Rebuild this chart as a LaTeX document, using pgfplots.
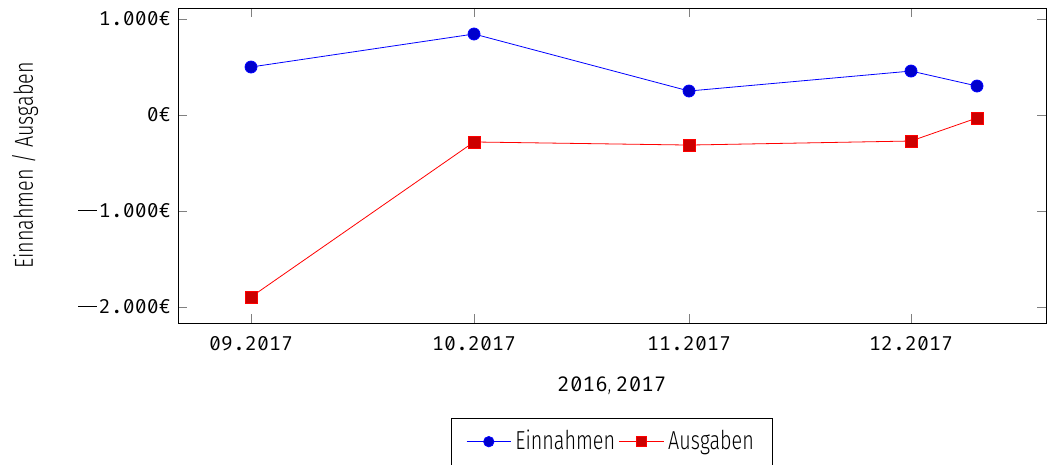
\documentclass[border=0pt]{standalone}
\usepackage{fontspec}
\setmainfont{Fira Sans}[UprightFont=* Light, FakeStretch=0.76]
\newfontfamily\numfont{Fira Mono}[RawFeature=+zero]
\newcommand{\mn}{\rule[3.3pt]{9.5pt}{0.55pt}\hspace{0.8pt}}
\usepackage{pgfplots}
\pgfplotsset{compat=1.18}
\begin{document}
\begin{tikzpicture}
\begin{axis}[
  scale only axis,
  width=434pt, height=157.5pt,
  xmin=178, xmax=1046,
  ymin=-2167, ymax=1115,
  xtick={251,474,689,911},
  xticklabels={09.2017,10.2017,11.2017,12.2017},
  ytick={-2000,-1000,0,1000},
  yticklabels={\mn2.000€,\mn1.000€,0€,1.000€},
  /pgf/number format/assume math mode=true,
  tick style={gray},
  every axis plot/.append style={mark size=3pt},
  xlabel={2016{\rmfamily,}\hspace{2.5pt}2017},
  ylabel={Einnahmen / Ausgaben},
  legend columns=-1,
  legend style={at={(0.5,-0.3016)}, anchor=north, font=\fontsize{13}{15}\selectfont, inner xsep=7.5pt, inner ysep=4pt},
  legend image code/.code={\draw[mark repeat=2,mark phase=2,mark size=2.6pt] plot coordinates {(0cm,0cm)(0.39cm,0cm)(0.78cm,0cm)};},
  tick label style={font=\fontsize{10}{12}\selectfont\numfont},
  xticklabel style={yshift=-3.25pt},
  xlabel style={font=\fontsize{10.5}{12}\selectfont\numfont, at={(rel axis cs:0.5,-0.219)}, anchor=base},
  ylabel style={font=\fontsize{13}{15}\selectfont, at={(rel axis cs:-0.1763,0.5)}, anchor=center},
]
\addplot coordinates {(251,500) (474,844) (689,250) (911,458) (977,302)};
\addlegendentry{Einnahmen}
\addplot coordinates {(251,-1896) (474,-281) (689,-313) (911,-271) (977,-31)};
\addlegendentry{Ausgaben}
\coordinate (bbsw) at (rel axis cs:-0.2051,-0.4508);
\coordinate (bbne) at (rel axis cs:1.0023,1.0254);
\end{axis}
\pgfresetboundingbox
\useasboundingbox (bbsw) rectangle (bbne);
\end{tikzpicture}
\end{document}
